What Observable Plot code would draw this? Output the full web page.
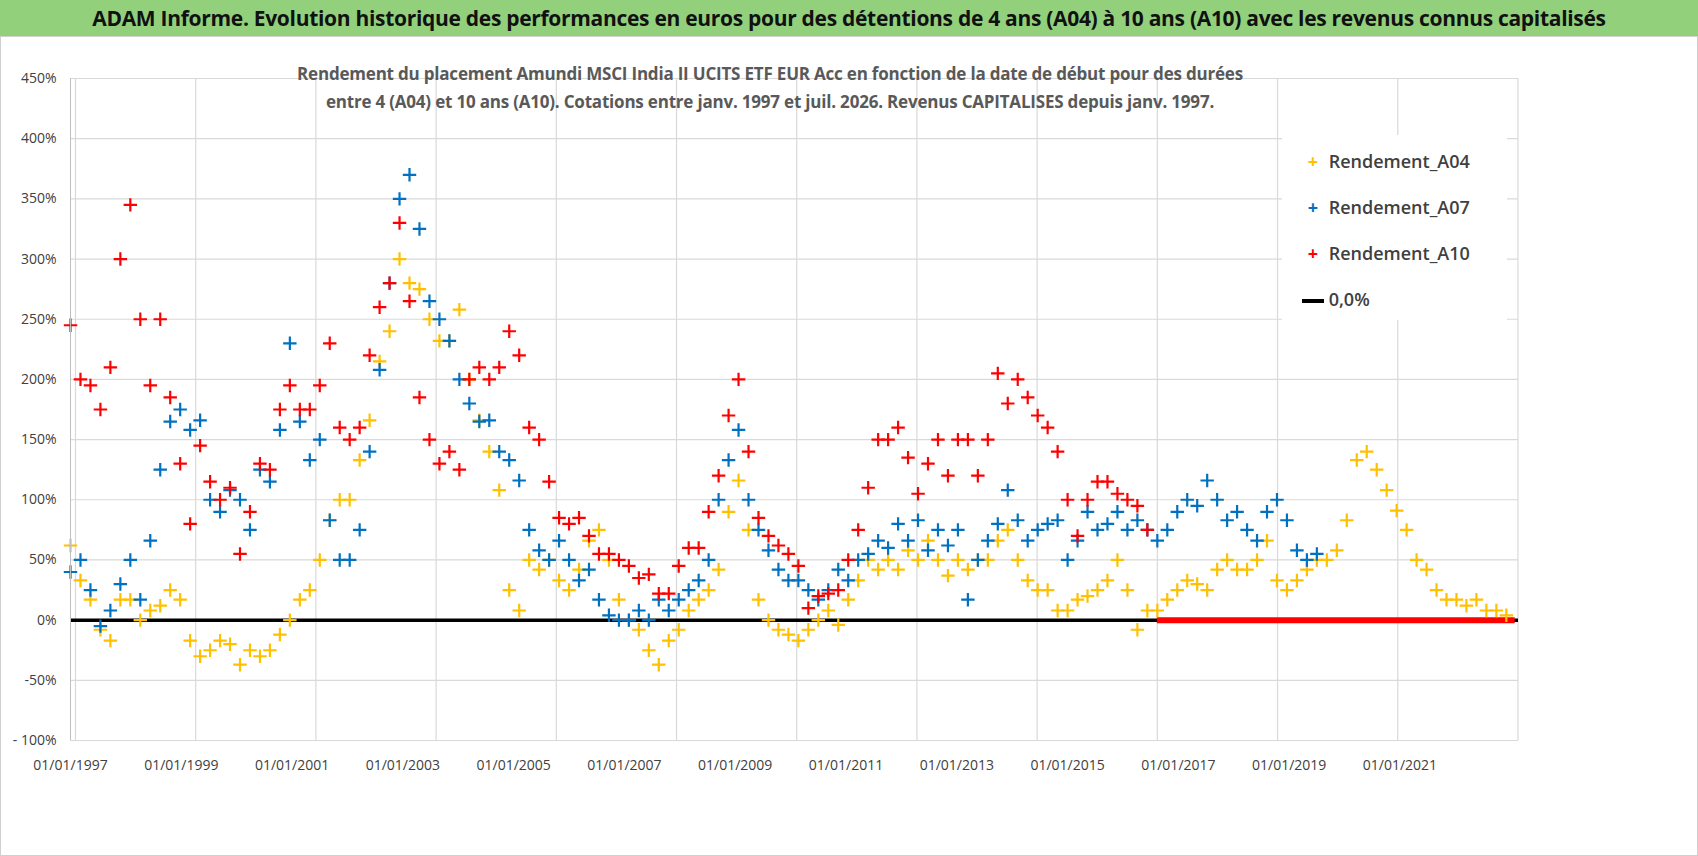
<!DOCTYPE html>
<html lang="fr">
<head>
<meta charset="utf-8">
<title>ADAM Informe</title>
<script src="https://cdn.jsdelivr.net/npm/d3@7"></script>
<script src="https://cdn.jsdelivr.net/npm/@observablehq/plot@0.6"></script>
<style>
  body { margin: 0; width: 1698px; height: 856px; overflow: hidden; background: #fff; font-family: 'Open Sans', sans-serif; position: relative; }
  #title { height: 36px; line-height: 36px; background: #92D07C; text-align: center; font-weight: bold; font-size: 21px; color: #111; border-bottom: 1px solid #7bb86a; letter-spacing: -0.3px; }
  #subtitle { position: absolute; left: 250px; width: 1040px; top: 60px; text-align: center; font-weight: bold; font-size: 17px; line-height: 28px; color: #595959; letter-spacing: -0.2px; }
  #legend { position: absolute; left: 1282px; top: 135px; width: 225px; height: 185px; background: #fff; font-size: 18px; font-weight: 600; color: #404040; }
  .item { position: absolute; left: 20px; height: 24px; line-height: 24px; }
  .item span.m { display: inline-block; width: 22px; text-align: center; font-weight: bold; }
  #graphic { position: absolute; left: 0; top: 36px; }
  #frame { position: absolute; left: 0; top: 36px; width: 1696px; height: 818px; border: 1px solid #d0d0d0; pointer-events: none; }
</style>
</head>
<body>
<div id="title">ADAM Informe. Evolution historique des performances en euros pour des détentions de 4 ans (A04) à 10 ans (A10) avec les revenus connus capitalisés</div>
<div id="graphic"></div>
<div id="frame"></div>
<div id="subtitle">Rendement du placement Amundi MSCI India II UCITS ETF EUR Acc en fonction de la date de début pour des durées<br>entre 4 (A04) et 10 ans (A10). Cotations entre janv. 1997 et juil. 2026. Revenus CAPITALISES depuis janv. 1997.</div>
<div id="legend"></div>
<script>
// start dates: one reading every 0.18 year from 01/01/1997
const startYear = 1997;
const stepYear = 0.18;

// Rendement (%)
const rendementA04 = [62,33,17,-8,-17,17,17,0,8,12,25,17,-17,-30,-25,-17,-20,-37,-25,-30,-25,-12,0,17,25,50,83,100,100,133,
  166,215,240,300,280,275,250,232,232,258,200,166,140,108,25,8,50,42,50,33,25,42,66,75,50,17,0,-8,-25,-37,
  -17,-8,8,17,25,42,90,116,75,17,0,-8,-12,-17,-8,0,8,-4,17,33,50,42,50,42,58,50,66,50,37,50,
  42,50,50,66,75,50,33,25,25,8,8,17,20,25,33,50,25,-8,8,8,17,25,33,30,25,42,50,42,42,50,
  66,33,25,33,42,50,50,58,83,133,140,125,108,91,75,50,42,25,17,17,12,17,8,8,4];
const rendementA07 = [40,50,25,-5,8,30,50,17,66,125,165,175,158,166,100,90,108,100,75,125,115,158,230,165,133,150,83,50,50,75,
  140,208,280,350,370,325,265,250,232,200,180,165,166,140,133,116,75,58,50,66,50,33,42,17,4,0,0,8,0,17,
  8,17,25,33,50,100,133,158,100,75,58,42,33,33,25,17,25,42,33,50,55,66,60,80,66,83,58,75,62,75,
  17,50,66,80,108,83,66,75,80,83,50,66,90,75,80,90,75,83,75,66,75,90,100,95,116,100,83,90,75,66,
  90,100,83,58,50,55];
const rendementA10 = [245,200,195,175,210,300,345,250,195,250,185,130,80,145,115,100,110,55,90,130,125,175,195,175,175,195,230,160,150,160,
  220,260,280,330,265,185,150,130,140,125,200,210,200,210,240,220,160,150,115,85,80,85,70,55,55,50,45,35,38,22,
  22,45,60,60,90,120,170,200,140,85,70,62,55,45,10,20,22,25,50,75,110,150,150,160,135,105,130,150,120,150,
  150,120,150,205,180,200,185,170,160,140,100,70,100,115,115,105,100,95,75];
// A10 is 0 for start dates from this point on
const zeroA10 = [2016.62, 2023.08];

const yTicks = [450,400,350,300,250,200,150,100,50,0,-50,-100];
const yTickLabels = ["450%","400%","350%","300%","250%","200%","150%","100%","50%","0%","-50%","- 100%"];
const xTicks = [1997,1999,2001,2003,2005,2007,2009,2011,2013,2015,2017,2019,2021];
const xGrid = [1997.09,1999.26,2001.43,2003.60,2005.77,2007.94,2010.11,2012.28,2014.45,2016.62,2018.79,2020.96,2023.13];

const series = [
  {name: "Rendement_A04", values: rendementA04, color: "#FFC000"},
  {name: "Rendement_A07", values: rendementA07, color: "#0070C0"},
  {name: "Rendement_A10", values: rendementA10, color: "#FF0000"}
];
const pts = series.flatMap(s => s.values.map((v, i) => ({serie: s.name, date: startYear + i * stepYear, v})));
const colorOf = Object.fromEntries(series.map(s => [s.name, s.color]));

const chart = Plot.plot({
  width: 1698, height: 820,
  marginLeft: 70, marginRight: 180, marginTop: 42, marginBottom: 116,
  style: {fontFamily: "'Open Sans', sans-serif", fontSize: "14px", color: "#404040"},
  x: {domain: [1997, 2023.14], ticks: xTicks, tickFormat: d => "01/01/" + d, tickSize: 0, tickPadding: 20, label: null},
  y: {domain: [-100, 450], ticks: yTicks, tickFormat: d => yTickLabels[yTicks.indexOf(d)], tickSize: 0, tickPadding: 14, label: null},
  marks: [
    Plot.ruleY(yTicks, {stroke: "#d9d9d9", strokeWidth: 1.2}),
    Plot.ruleX(xGrid, {y1: -100, y2: 450, stroke: "#d9d9d9", strokeWidth: 1.2}),
    Plot.ruleY([0], {x1: 1997, x2: 2023.14, stroke: "#000", strokeWidth: 3.5}),
    Plot.ruleY([0], {x1: zeroA10[0], x2: zeroA10[1], stroke: "#FF0000", strokeWidth: 6}),
    Plot.dot(pts, {x: "date", y: "v", symbol: "plus", r: 4.4, stroke: d => colorOf[d.serie], strokeWidth: 2.2}),
    Plot.ruleX([1997], {y1: -100, y2: 450, stroke: "#bfbfbf"})
  ]
});
document.getElementById("graphic").appendChild(chart);

const legend = document.getElementById("legend");
const items = [...series.map(s => ({label: s.name, color: s.color, mark: "+"})), {label: "0,0%", color: "#000", mark: "line"}];
items.forEach((it, i) => {
  const d = document.createElement("div");
  d.className = "item";
  d.style.top = (14 + i * 46) + "px";
  const m = it.mark === "+"
    ? `<span class="m" style="color:${it.color}">+</span>`
    : `<span class="m"><span style="display:inline-block;width:22px;height:4px;background:#000;vertical-align:middle"></span></span>`;
  d.innerHTML = m + " " + it.label;
  legend.appendChild(d);
});
</script>
</body>
</html>
